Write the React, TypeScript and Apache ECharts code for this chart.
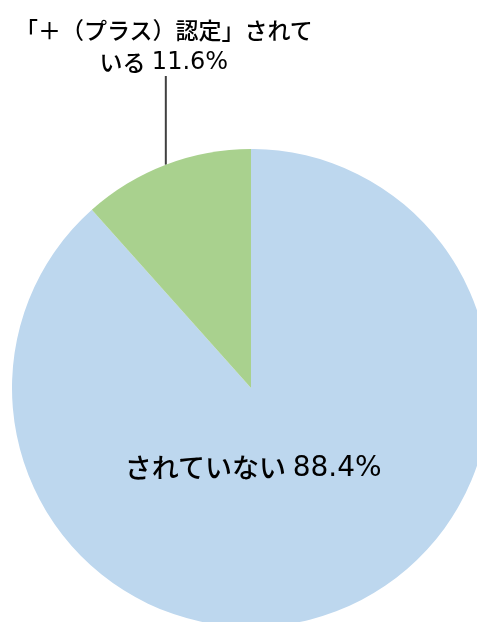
import { useEffect, useRef } from 'react';
import * as echarts from 'echarts';

const categories = ['されていない', '「＋（プラス）認定」されて\nいる'];
const values = [88.4, 11.6];
const colors = ['#BDD7EE', '#A9D18E'];

export default function App() {
  const ref = useRef<HTMLDivElement>(null);
  useEffect(() => {
    const chart = echarts.init(ref.current!, null, { renderer: 'svg' });
    const jp = 'Noto Sans CJK JP';
    const num = 'DejaVu Sans';
    chart.setOption({
      animation: false,
      series: [
        {
          type: 'pie',
          center: [251, 388],
          radius: 239,
          startAngle: 90,
          clockwise: true,
          silent: true,
          data: categories.map((name, i) => ({
            name,
            value: values[i],
            itemStyle: { color: colors[i] },
            label:
              i === 0
                ? {
                    position: 'inside',
                    rich: {
                      t: { fontSize: 27, fontFamily: jp, color: '#000', fontWeight: 500 },
                      n: { fontSize: 28, fontFamily: num, color: '#000', padding: [0, 0, 0, 3] },
                    },
                  }
                : {
                    position: 'outside',
                    rich: {
                      t: { fontSize: 23, lineHeight: 32, fontFamily: jp, color: '#000', fontWeight: 500 },
                      n: { fontSize: 24, lineHeight: 32, fontFamily: num, color: '#000', padding: [0, 0, 0, 3] },
                    },
                  },
            labelLine:
              i === 0
                ? { show: false }
                : { show: true, lineStyle: { color: '#404040', width: 2 } },
          })),
          label: {
            formatter: (p: any) => {
              const lines = String(p.name).split('\n');
              const body = lines.map((l) => `{t|${l}}`).join('\n');
              return `${body} {n|${Number(p.value).toFixed(1)}%}`;
            },
            overflow: 'none',
            color: '#000',
          },
          labelLayout: (params: any) => {
            if (params.dataIndex === 0) {
              return { x: 253, y: 466, align: 'center', verticalAlign: 'middle', width: 400 };
            }
            const p0 = params.labelLinePoints ? params.labelLinePoints[0] : [166, 165];
            return {
              x: p0[0] - 2,
              y: 45,
              width: 340,
              align: 'center',
              verticalAlign: 'middle',
              labelLinePoints: [p0, [p0[0], 76]],
            };
          },
        },
      ],
    });
    return () => chart.dispose();
  }, []);
  return (
    <div
      ref={ref}
      style={{ position: 'fixed', left: 0, top: 0, width: 477, height: 622 }}
    />
  );
}
